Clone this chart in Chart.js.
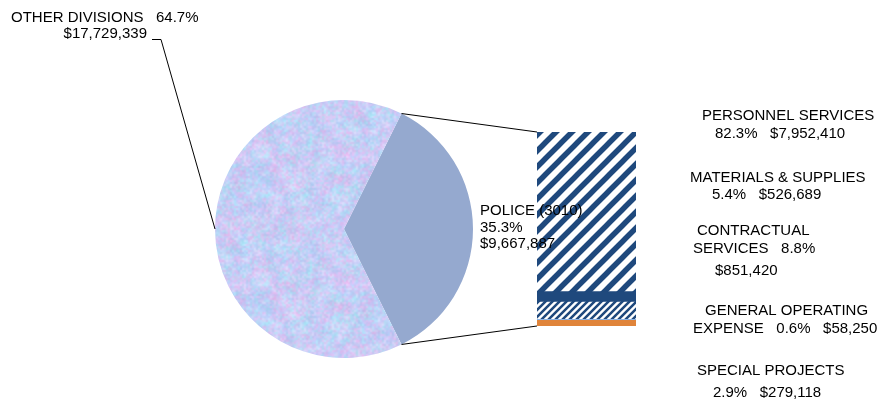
<!DOCTYPE html>
<html>
<head>
<meta charset="utf-8">
<script src="https://cdn.jsdelivr.net/npm/chart.js@4.4.1/dist/chart.umd.min.js"></script>
<style>
  html, body { margin: 0; padding: 0; background: #fff; }
  #wrap { position: relative; width: 879px; height: 402px; }
  #wrap canvas { position: absolute; left: 0; top: 0; }
</style>
</head>
<body>
<div id="wrap">
  <canvas id="pieChart" width="879" height="402"></canvas>
  <canvas id="barChart" width="879" height="402"></canvas>
</div>
<script>
// Budget split between divisions (pie)
const divisionNames = ['POLICE (3010)', 'OTHER DIVISIONS'];
const divisionPercents = [35.3, 64.7];
const divisionAmounts = [9667887, 17729339];

// Police breakdown (stacked bar, listed top to bottom)
const policeCategories = ['PERSONNEL SERVICES', 'MATERIALS & SUPPLIES', 'CONTRACTUAL SERVICES', 'GENERAL OPERATING EXPENSE', 'SPECIAL PROJECTS'];
const policePercents = [82.3, 5.4, 8.8, 0.6, 2.9];
const policeAmounts = [7952410, 526689, 851420, 58250, 279118];

const NAVY = '#1f497d';
const FONT = '15px "Liberation Sans", Arial, sans-serif';

const pieCanvas = document.getElementById('pieChart');
const barCanvas = document.getElementById('barChart');

// Soft mottled fill for the "other divisions" slice
function makeMottled(ctx) {
  let seed = 7;
  const rnd = () => { seed = (seed * 16807) % 2147483647; return seed / 2147483647; };
  const palette = [[230, 186, 240], [176, 204, 246], [168, 228, 246], [200, 196, 246], [216, 218, 250]];
  const size = 128;
  const tile = document.createElement('canvas');
  tile.width = tile.height = size;
  const tc = tile.getContext('2d');
  tc.imageSmoothingEnabled = true;
  [[16, 1], [64, 0.6]].forEach(([n, alpha]) => {
    // one wrapped pixel on each side so the tile repeats without seams
    const cells = [];
    for (let i = 0; i < n * n; i++) {
      const c = palette[Math.floor(rnd() * palette.length)];
      const j = (rnd() - 0.5) * 24;
      cells.push([c[0] + j, c[1] + j, c[2] + j]);
    }
    const m = n + 2;
    const small = document.createElement('canvas');
    small.width = small.height = m;
    const sc = small.getContext('2d');
    const img = sc.createImageData(m, m);
    for (let y = 0; y < m; y++) {
      for (let x = 0; x < m; x++) {
        const c = cells[((y - 1 + n) % n) * n + ((x - 1 + n) % n)];
        const o = (y * m + x) * 4;
        img.data[o] = c[0];
        img.data[o + 1] = c[1];
        img.data[o + 2] = c[2];
        img.data[o + 3] = 255;
      }
    }
    sc.putImageData(img, 0, 0);
    const cell = size / n;
    tc.globalAlpha = alpha;
    tc.drawImage(small, -cell, -cell, size + 2 * cell, size + 2 * cell);
  });
  return ctx.createPattern(tile, 'repeat');
}

// Upward diagonal hatch
function makeStripes(ctx, size, width, ink, paper) {
  const tile = document.createElement('canvas');
  tile.width = tile.height = size;
  const c = tile.getContext('2d');
  c.fillStyle = paper;
  c.fillRect(0, 0, size, size);
  c.strokeStyle = ink;
  c.lineWidth = width;
  c.beginPath();
  for (let k = -1; k <= 1; k++) {
    c.moveTo(k * size - size, 2 * size);
    c.lineTo(k * size + 2 * size, -size);
  }
  c.stroke();
  return ctx.createPattern(tile, 'repeat');
}

const allTotal = divisionAmounts.reduce((a, b) => a + b, 0);
const policeSweep = 360 * divisionAmounts[0] / allTotal;

const pieChart = new Chart(pieCanvas, {
  type: 'pie',
  data: {
    labels: divisionNames,
    datasets: [{
      data: divisionAmounts,
      backgroundColor: ['#95a9cf', makeMottled(pieCanvas.getContext('2d'))],
      borderWidth: 0
    }]
  },
  options: {
    responsive: false,
    animation: false,
    events: [],
    rotation: 90 - policeSweep / 2,
    layout: { padding: { left: 215, right: 406, top: 100, bottom: 44 } },
    plugins: { legend: { display: false }, tooltip: { enabled: false } }
  }
});

const money = n => '$' + n.toLocaleString('en-US');
const pct = p => p.toFixed(1) + '%';
const gap = '   ';

// Connector lines and all the text labels
const calloutPlugin = {
  id: 'callouts',
  afterDraw(chart) {
    const ctx = chart.ctx;
    const slices = pieChart.getDatasetMeta(0).data;
    const police = slices[0];
    const other = slices[1];
    const r = police.outerRadius;
    const topBar = chart.getDatasetMeta(chart.data.datasets.length - 1).data[0];
    const bottomBar = chart.getDatasetMeta(0).data[0];
    const barLeft = topBar.x - topBar.width / 2;

    ctx.save();
    ctx.strokeStyle = '#000';
    ctx.lineWidth = 1;
    ctx.beginPath();
    ctx.moveTo(police.x + r * Math.cos(police.startAngle), police.y + r * Math.sin(police.startAngle));
    ctx.lineTo(barLeft, topBar.y);
    ctx.moveTo(police.x + r * Math.cos(police.endAngle), police.y + r * Math.sin(police.endAngle));
    ctx.lineTo(barLeft, bottomBar.base);
    const mid = (other.startAngle + other.endAngle) / 2;
    ctx.moveTo(152, 39.5);
    ctx.lineTo(161, 39.5);
    ctx.lineTo(other.x + r * Math.cos(mid), other.y + r * Math.sin(mid));
    ctx.stroke();

    const contractual = policeCategories[2].split(' ');
    const general = policeCategories[3].split(' ');
    const texts = [
      [divisionNames[1] + gap + pct(divisionPercents[1]), 11, 22],
      [money(divisionAmounts[1]), 147, 38, 'right'],
      [divisionNames[0], 480, 215],
      [pct(divisionPercents[0]), 480, 232],
      [money(divisionAmounts[0]), 480, 248],
      [policeCategories[0], 702, 120],
      [pct(policePercents[0]) + gap + money(policeAmounts[0]), 715, 138],
      [policeCategories[1], 690, 182],
      [pct(policePercents[1]) + gap + money(policeAmounts[1]), 712, 199],
      [contractual[0], 697, 235],
      [contractual[1] + gap + pct(policePercents[2]), 693, 253],
      [money(policeAmounts[2]), 715, 275],
      [general[0] + ' ' + general[1], 705, 315],
      [general[2] + gap + pct(policePercents[3]) + gap + money(policeAmounts[3]), 693, 333],
      [policeCategories[4], 697, 375],
      [pct(policePercents[4]) + gap + money(policeAmounts[4]), 713, 397]
    ];
    ctx.font = FONT;
    ctx.fillStyle = '#000';
    ctx.textBaseline = 'alphabetic';
    texts.forEach(([t, x, y, align]) => {
      ctx.textAlign = align || 'left';
      ctx.fillText(t, x, y);
    });
    ctx.restore();
  }
};

const barCtx = barCanvas.getContext('2d');
const barFills = [
  makeStripes(barCtx, 16, 5.5, NAVY, '#ffffff'),
  NAVY,
  makeStripes(barCtx, 7, 2.5, NAVY, '#ffffff'),
  '#8db3e2',
  '#e0843a'
];
// Chart.js stacks from the bottom up, so feed the last category first
const stackOrder = policeCategories.map((_, i) => i).reverse();

new Chart(barCanvas, {
  type: 'bar',
  data: {
    labels: ['POLICE'],
    datasets: stackOrder.map(i => ({
      label: policeCategories[i],
      data: [policeAmounts[i]],
      backgroundColor: barFills[i],
      borderWidth: 0,
      barPercentage: 1,
      categoryPercentage: 1
    }))
  },
  options: {
    responsive: false,
    animation: false,
    events: [],
    layout: { padding: { left: 537, right: 243, top: 132, bottom: 76 } },
    scales: {
      x: { stacked: true, display: false },
      y: { stacked: true, display: false, min: 0, max: divisionAmounts[0] }
    },
    plugins: { legend: { display: false }, tooltip: { enabled: false } }
  },
  plugins: [calloutPlugin]
});
</script>
</body>
</html>
